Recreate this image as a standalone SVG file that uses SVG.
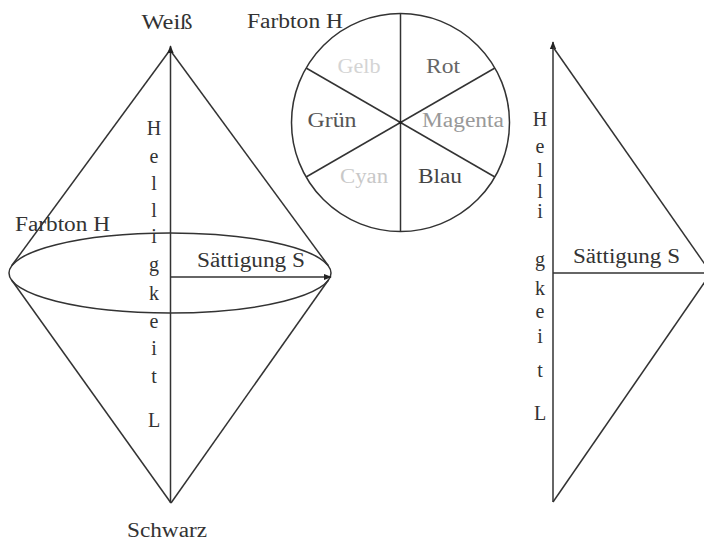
<svg xmlns="http://www.w3.org/2000/svg" width="704" height="545" viewBox="0 0 704 545">
<style>
.ln{stroke:#333;stroke-width:1.5;fill:none}
.t{font-family:"Liberation Serif","Times New Roman",serif;font-size:20px;fill:#333}
.c{text-anchor:middle}
</style>
<defs>
<marker id="ah" viewBox="0 0 10 10" refX="9" refY="5" markerWidth="8" markerHeight="8" orient="auto" markerUnits="userSpaceOnUse">
<path d="M0,1 L10,5 L0,9 z" fill="#222"/>
</marker>
</defs>
<rect width="704" height="545" fill="#fff"/>
<g id="connectors">
<!-- left double cone -->
<line class="ln" x1="170" y1="50" x2="11.6" y2="265.8"/>
<line class="ln" x1="170" y1="50" x2="328.4" y2="265.8"/>
<line class="ln" x1="11.6" y1="280" x2="171" y2="503"/>
<line class="ln" x1="328.4" y1="280" x2="171" y2="503"/>
<ellipse class="ln" cx="170" cy="273" rx="161" ry="40"/>
<line class="ln" x1="170.5" y1="503" x2="170.5" y2="46" marker-end="url(#ah)"/>
<line class="ln" x1="170.5" y1="277" x2="331" y2="277" marker-end="url(#ah)"/>
<!-- right triangle -->
<line class="ln" x1="553" y1="502" x2="553" y2="42" marker-end="url(#ah)"/>
<line class="ln" x1="553" y1="47" x2="711" y2="273"/>
<line class="ln" x1="553" y1="502" x2="711" y2="273"/>
<line class="ln" x1="553" y1="273" x2="711" y2="273"/>
</g>
<g id="hue-circle">
<circle class="ln" cx="400.5" cy="122.5" r="109"/>
<line class="ln" x1="400.5" y1="13.5" x2="400.5" y2="231.5"/>
<line class="ln" x1="306.1" y1="68" x2="494.9" y2="177"/>
<line class="ln" x1="306.1" y1="177" x2="494.9" y2="68"/>
<circle cx="400.5" cy="122.5" r="1.8" fill="#222"/>
<text class="t c" x="359" y="73" textLength="43" lengthAdjust="spacingAndGlyphs" style="fill:#d4d4d4">Gelb</text>
<text class="t c" x="443" y="73" textLength="34" lengthAdjust="spacingAndGlyphs" style="fill:#666">Rot</text>
<text class="t c" x="332" y="127" textLength="49" lengthAdjust="spacingAndGlyphs" style="fill:#555">Grün</text>
<text class="t c" x="463" y="127" textLength="82" lengthAdjust="spacingAndGlyphs" style="fill:#999">Magenta</text>
<text class="t c" x="364" y="183" textLength="48" lengthAdjust="spacingAndGlyphs" style="fill:#c8c8c8">Cyan</text>
<text class="t c" x="440" y="183" textLength="44" lengthAdjust="spacingAndGlyphs" style="fill:#444">Blau</text>
</g>
<g id="labels-top">
<text class="t c" x="167" y="29" textLength="51" lengthAdjust="spacingAndGlyphs">Weiß</text>
<text class="t" x="247" y="28" textLength="96" lengthAdjust="spacingAndGlyphs">Farbton H</text>
</g>
<g id="cone-labels">
<text class="t" x="15" y="231" textLength="95" lengthAdjust="spacingAndGlyphs">Farbton H</text>
<text class="t" x="197" y="267" textLength="108" lengthAdjust="spacingAndGlyphs">Sättigung S</text>
<text class="t c" x="167" y="537" textLength="80" lengthAdjust="spacingAndGlyphs">Schwarz</text>
</g>
<g id="helligkeit-left" class="t c">
<text class="t c" x="154" y="135">H</text>
<text class="t c" x="154" y="163">e</text>
<text class="t c" x="154" y="190">l</text>
<text class="t c" x="154" y="217">l</text>
<text class="t c" x="154" y="243">i</text>
<text class="t c" x="154" y="271">g</text>
<text class="t c" x="154" y="300">k</text>
<text class="t c" x="154" y="328">e</text>
<text class="t c" x="154" y="355">i</text>
<text class="t c" x="154" y="383">t</text>
<text class="t c" x="154" y="427">L</text>
</g>
<g id="triangle-labels">
<text class="t" x="573" y="263" textLength="107" lengthAdjust="spacingAndGlyphs">Sättigung S</text>
<text class="t c" x="540" y="126">H</text>
<text class="t c" x="540" y="153">e</text>
<text class="t c" x="540" y="177">l</text>
<text class="t c" x="540" y="198">l</text>
<text class="t c" x="540" y="218">i</text>
<text class="t c" x="540" y="266">g</text>
<text class="t c" x="540" y="295">k</text>
<text class="t c" x="540" y="318">e</text>
<text class="t c" x="540" y="343">i</text>
<text class="t c" x="540" y="377">t</text>
<text class="t c" x="540" y="420">L</text>
</g>
</svg>
